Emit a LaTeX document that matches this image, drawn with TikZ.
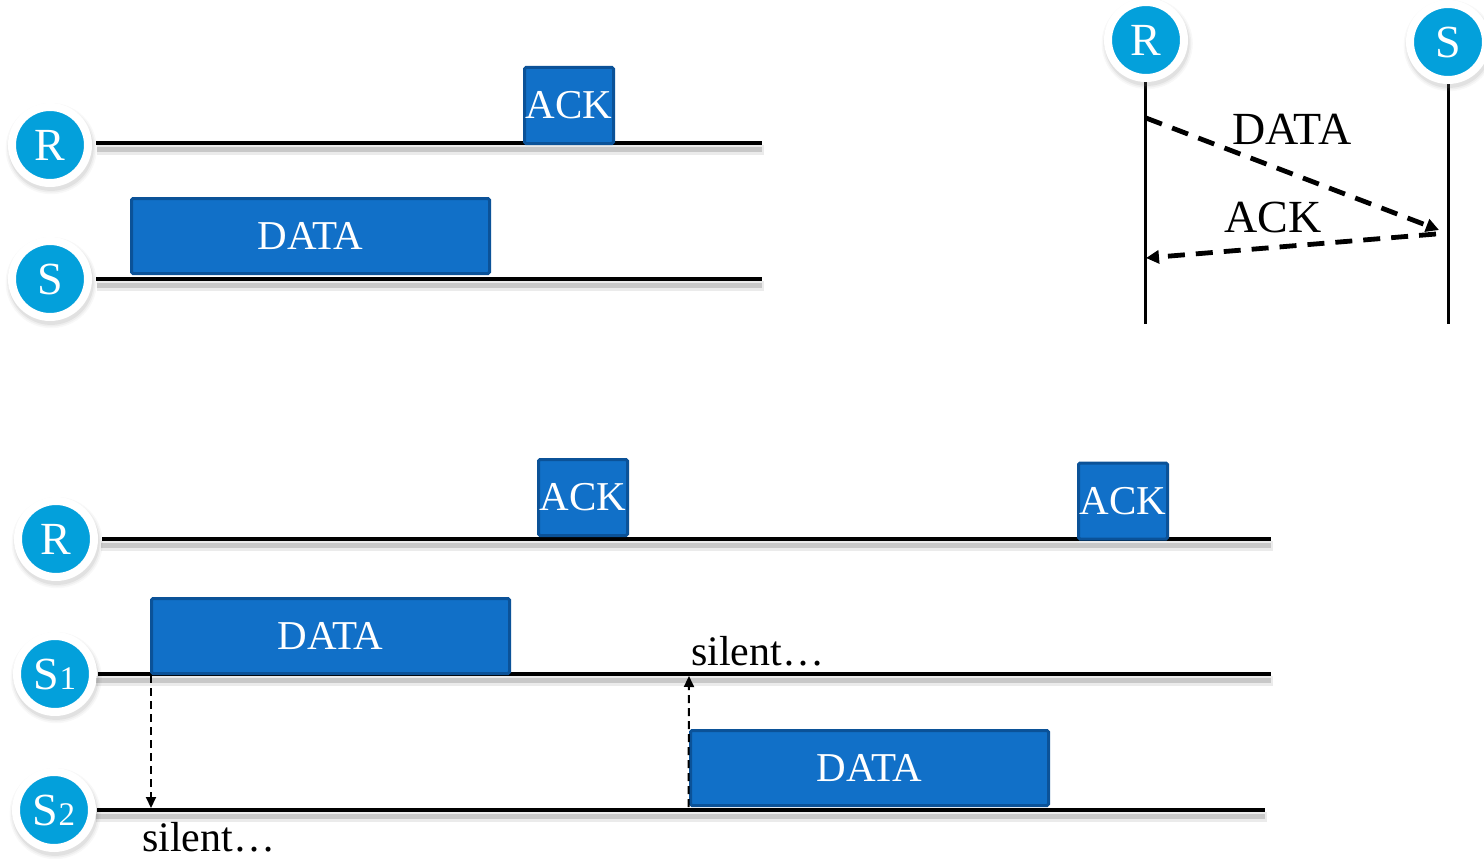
\documentclass[tikz,border=0pt]{standalone}
\usepackage{fontspec}
\setmainfont{Liberation Serif}
\usetikzlibrary{arrows.meta,shadows}
\definecolor{cblue}{RGB}{3,160,219}
\definecolor{bfill}{RGB}{17,112,200}
\definecolor{bdraw}{RGB}{11,82,152}
\newcommand{\bigtxt}{\fontsize{41}{46}\selectfont}
\newcommand{\siltxt}{\fontsize{42}{46}\selectfont}
\newcommand{\hugetxt}{\fontsize{46}{52}\selectfont}
\newcommand{\subdig}[1]{{\fontsize{33}{36}\selectfont #1}}
\tikzset{
  station/.style={circle, fill=cblue, draw=white, line width=8pt, minimum size=76pt, inner sep=0pt,
    text=white, font=\hugetxt,
    drop shadow={shadow xshift=1pt, shadow yshift=-3pt, shadow scale=1.20, opacity=0.06},
    drop shadow={shadow xshift=1pt, shadow yshift=-3pt, shadow scale=1.16, opacity=0.08},
    drop shadow={shadow xshift=1pt, shadow yshift=-3pt, shadow scale=1.12, opacity=0.12}},
  timeline/.style={line width=4pt, line cap=butt},
  tlshadowA/.style={line width=10pt, draw=black, opacity=0.08},
  tlshadowB/.style={line width=5pt, draw=black, opacity=0.15},
  packet/.style={rectangle, rounded corners=1.5pt, fill=bfill, draw=bdraw, line width=3pt, text=white,
    font=\bigtxt, inner sep=0pt},
  ackbox/.style={packet, minimum width=89pt, minimum height=76pt},
  databox/.style={packet, minimum width=358pt, minimum height=75pt},
  msg/.style={line width=4.8pt, dash pattern=on 17pt off 11pt, -{Triangle[length=13pt,width=13pt]}},
  hop/.style={line width=2pt, dash pattern=on 8pt off 5pt, -{Triangle[length=11pt,width=10pt]}},
  lbl/.style={font=\hugetxt, text=black, inner sep=0pt},
  sil/.style={font=\siltxt, text=black, inner sep=0pt}
}
\begin{document}
\begin{tikzpicture}[x=1pt,y=-1pt]
\useasboundingbox (0,0) rectangle (1484,859);
% ---------- top-left ----------
\node[station] (R1) at (50,145) {R};
\node[station] (S1a) at (50,279) {S};
\coordinate (r1e) at (762,143);
\coordinate (s1e) at (762,279);
\draw[tlshadowA] (97,150) -- (764,150);
\draw[tlshadowB] (97,149) -- (762,149);
\draw[tlshadowA] (97,286) -- (764,286);
\draw[tlshadowB] (97,285) -- (762,285);
\draw[timeline] ([xshift=4pt]R1.east |- r1e) -- (r1e);
\draw[timeline] ([xshift=4pt]S1a.east |- s1e) -- (s1e);
\node[ackbox] (ackA) at (569,105.5) {ACK};
\node[databox] (dataA) at (310.5,236) {DATA};
% ---------- top-right ----------
\coordinate (rb) at (1145,324);
\coordinate (sb) at (1448,324);
\draw[line width=3pt] (1145,60) -- (rb);
\draw[line width=3pt] (1448,60) -- (sb);
\node[station] (R2) at (1146,40) {R};
\node[station] (S2a) at (1448,42) {S};
\coordinate (d0) at (1146,118);
\coordinate (d1) at (1439,230);
\coordinate (a0) at (1436,234);
\coordinate (a1) at (1146,258);
\draw[msg] (d0) -- (d1);
\draw[msg] (a0) -- (a1);
\node[lbl] (ldata) at (1292,129) {DATA};
\node[lbl] (lack) at (1273,217) {ACK};
% ---------- bottom ----------
\node[station] (R3) at (56,539) {R};
\node[station] (S31) at (55,674) {S\subdig{1}};
\node[station] (S32) at (54,810) {S\subdig{2}};
\coordinate (r3e) at (1271,539);
\coordinate (s31e) at (1271,674);
\coordinate (s32e) at (1265,810);
\draw[tlshadowA] (101,546) -- (1273,546);
\draw[tlshadowB] (101,545) -- (1271,545);
\draw[tlshadowA] (96,681) -- (1273,681);
\draw[tlshadowB] (96,680) -- (1271,680);
\draw[tlshadowA] (96,817) -- (1267,817);
\draw[tlshadowB] (96,816) -- (1265,816);
\draw[timeline] ([xshift=4pt]R3.east |- r3e) -- (r3e);
\draw[timeline] ([xshift=1pt]S31.east |- s31e) -- (s31e);
\draw[timeline] ([xshift=1pt]S32.east |- s32e) -- (s32e);
\node[ackbox] (ackB) at (583,497.5) {ACK};
\node[ackbox] (ackC) at (1123,501) {ACK};
\node[databox] (dataB) at (330.5,636) {DATA};
\node[databox] (dataC) at (869.5,768) {DATA};
\coordinate (h1) at (151,808);
\coordinate (h2) at (689,676);
\draw[hop] ([xshift=1pt]dataB.south west) -- (h1);
\draw[hop] ([xshift=-0.5pt]dataC.south west) -- (h2);
\node[sil, anchor=base west] (sil1) at (691,665) {silent\ldots};
\node[sil, anchor=base west] (sil2) at (142,851) {silent\ldots};
\end{tikzpicture}
\end{document}
